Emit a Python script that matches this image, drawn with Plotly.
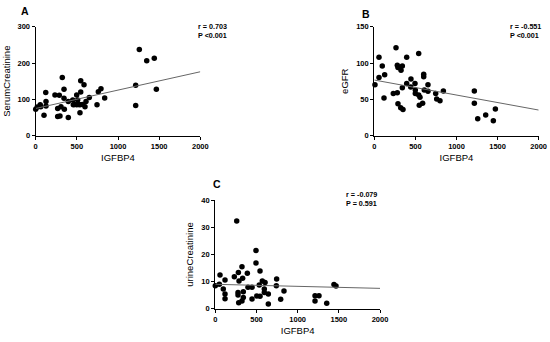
import plotly.graph_objects as go

# ---- Data ----
a_igfbp4 = [0, 19, 55, 61, 101, 122, 125, 125, 234, 267, 267, 287, 295, 307, 323, 344, 344, 348,
            396, 396, 450, 457, 470, 498, 498, 510, 522, 538, 538, 547, 547, 567, 587, 599, 611, 651,
            745, 761, 793, 838, 1215, 1215, 1259, 1349, 1441, 1466]
a_serum_creat = [73, 79, 85, 80, 56, 119, 94, 82, 112, 75, 53, 111, 54, 80, 160, 128, 103, 73,
                 94, 50, 98, 85, 86, 112, 85, 98, 86, 85, 63, 151, 120, 86, 140, 80, 94, 105,
                 85, 121, 129, 104, 139, 83, 237, 206, 213, 128]

b_igfbp4 = [8, 57, 97, 57, 126, 118, 264, 280, 288, 341, 325, 394, 540, 231, 280, 288, 321, 349,
            341, 394, 446, 443, 495, 499, 499, 540, 556, 547, 588, 601, 601, 608, 653, 653, 747,
            759, 799, 840, 1217, 1217, 1258, 1355, 1448, 1473]
b_egfr = [70, 108, 96, 80, 84, 52, 121, 97, 94, 96, 90, 108, 113, 58, 59, 44, 38.5, 36,
          66, 72, 78, 67, 72, 63, 58, 56, 53, 42, 44.6, 84.5, 81, 63, 70, 61, 58,
          50.5, 48, 61.5, 61.5, 44.6, 23.4, 28.5, 20.6, 36.7]

c_igfbp4 = [0, 49, 57, 118, 97, 118, 118, 260, 231, 280, 324, 332, 288, 389, 494, 494, 543, 276,
            276, 340, 284, 324, 340, 397, 446, 446, 503, 543, 534, 571, 604, 595, 595, 644, 644,
            745, 741, 834, 794, 1211, 1259, 1211, 1353, 1441, 1466]
c_urine_creat = [8.5, 9, 12.4, 10.6, 7.3, 5.4, 3.7, 32.4, 11.8, 13.4, 15.5, 11.2, 10.2, 13.1, 21.5,
                 16.9, 13.9, 6.0, 5.1, 6.3, 2.2, 2.8, 4.1, 7.9, 7.9, 3.6, 4.7, 4.6, 8.7, 10.2, 9.7,
                 7.3, 6.0, 5.4, 1.7, 11, 8.5, 6.5, 3.5, 4.8, 4.8, 2.8, 2.0, 8.9, 8.4]

# regression line values at IGFBP4 = 0 and 2000 (as drawn in the reference)
fit_x = [0, 2000]
a_fit_y = [75, 176]
b_fit_y = [76.6, 35.3]
c_fit_y = [9.0, 7.5]

x_ticks = [0, 500, 1000, 1500, 2000]
a_yticks = [0, 100, 200, 300]
b_yticks = [0, 50, 100, 150]
c_yticks = [0, 10, 20, 30, 40]

panels = [
    dict(key="A", x=a_igfbp4, y=a_serum_creat, fit=a_fit_y, ytitle="SerumCreatinine",
         yticks=a_yticks, stats="r = 0.703<br>P &lt;0.001"),
    dict(key="B", x=b_igfbp4, y=b_egfr, fit=b_fit_y, ytitle="eGFR",
         yticks=b_yticks, stats="r = -0.551<br>P &lt;0.001"),
    dict(key="C", x=c_igfbp4, y=c_urine_creat, fit=c_fit_y, ytitle="urineCreatinine",
         yticks=c_yticks, stats="r = -0.079<br>P = 0.591"),
]

# ---- Layout geometry (pixels in a 550x342 canvas) ----
W, H = 550, 342
geom = {
    "A": dict(x0=35.7, x1=200.3, ytop=26.7, ybot=135.7, lab=(25, 11), st=(196, 31)),
    "B": dict(x0=374.3, x1=538.7, ytop=26.7, ybot=135.7, lab=(366, 14), st=(508, 31)),
    "C": dict(x0=215.3, x1=380.0, ytop=200.3, ybot=308.7, lab=(217, 184), st=(344, 199)),
}

FONT = "Liberation Sans, Arial, sans-serif"
fig = go.Figure()
annotations = []
layout = {}

for i, p in enumerate(panels, start=1):
    g = geom[p["key"]]
    xa = "x" if i == 1 else f"x{i}"
    ya = "y" if i == 1 else f"y{i}"

    fig.add_trace(go.Scatter(x=p["x"], y=p["y"], mode="markers", xaxis=xa, yaxis=ya,
                             marker=dict(color="black", size=5.5), cliponaxis=False,
                             showlegend=False))
    fig.add_trace(go.Scatter(x=fit_x, y=p["fit"], mode="lines", xaxis=xa, yaxis=ya,
                             line=dict(color="#666666", width=1), showlegend=False,
                             cliponaxis=False))

    axis_common = dict(showline=True, linecolor="black", linewidth=1.3, ticks="outside",
                       ticklen=3, tickwidth=1.2, tickcolor="black", showgrid=False,
                       zeroline=False, automargin=False,
                       tickfont=dict(family=FONT, size=7.5, color="black", weight="bold"))
    layout["xaxis" if i == 1 else f"xaxis{i}"] = dict(
        axis_common, domain=[g["x0"] / W, g["x1"] / W], range=[x_ticks[0], x_ticks[-1]],
        tickvals=x_ticks, anchor=ya,
        title=dict(text="IGFBP4", font=dict(family=FONT, size=9.5, color="black"), standoff=4))
    layout["yaxis" if i == 1 else f"yaxis{i}"] = dict(
        axis_common, domain=[1 - g["ybot"] / H, 1 - g["ytop"] / H],
        range=[p["yticks"][0], p["yticks"][-1]], tickvals=p["yticks"], anchor=xa,
        title=dict(text=p["ytitle"], font=dict(family=FONT, size=9.5, color="black"), standoff=5))

    annotations.append(dict(text=p["key"], x=g["lab"][0] / W, y=1 - g["lab"][1] / H,
                            xref="paper", yref="paper", showarrow=False, xanchor="center",
                            yanchor="middle",
                            font=dict(family=FONT, size=10.5, color="black", weight="bold")))
    annotations.append(dict(text=p["stats"], x=g["st"][0] / W, y=1 - g["st"][1] / H,
                            xref="paper", yref="paper", showarrow=False, xanchor="left",
                            yanchor="middle", align="left",
                            font=dict(family=FONT, size=7.2, color="black", weight="bold")))

fig.update_layout(template="none", width=W, height=H, margin=dict(l=0, r=0, t=0, b=0, pad=0),
                  paper_bgcolor="white", plot_bgcolor="white",
                  font=dict(family=FONT, color="black"),
                  annotations=annotations, **layout)

fig.write_html("out.html", config={"displayModeBar": False},
               post_script="document.body.style.margin='0';document.body.style.padding='0';")
